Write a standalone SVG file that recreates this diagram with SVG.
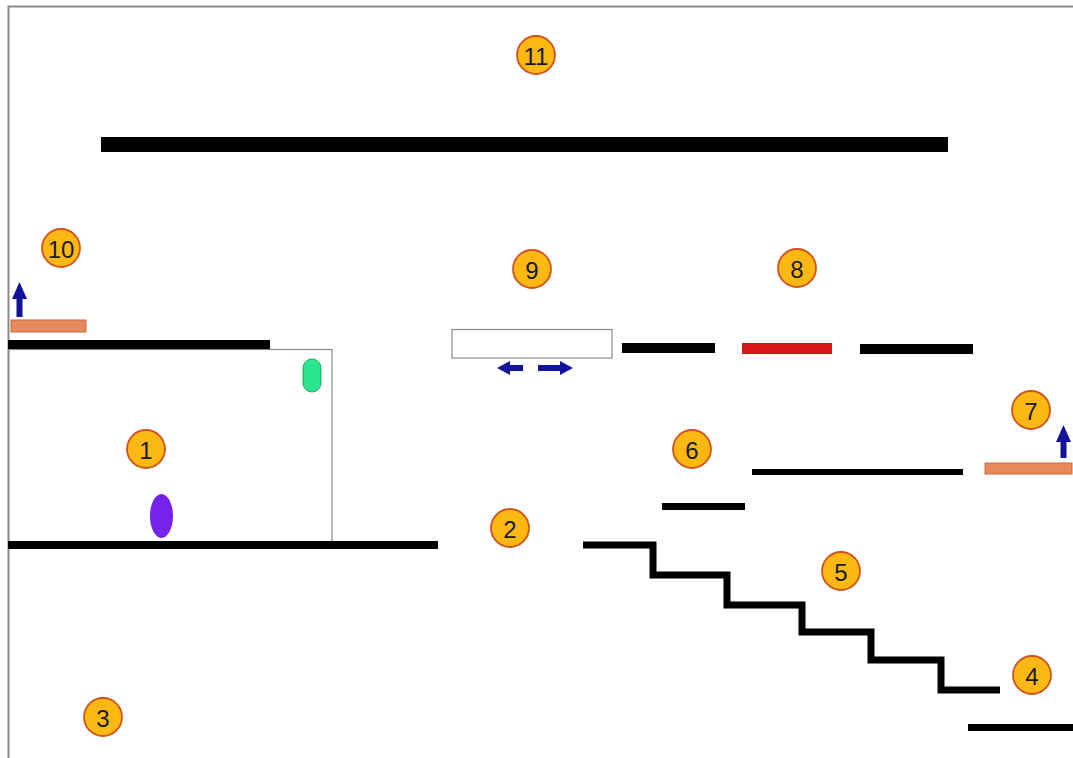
<svg xmlns="http://www.w3.org/2000/svg" width="1073" height="758" viewBox="0 0 1073 758">
<style>
.badge circle{fill:#FDB813;stroke:#D2521E;stroke-width:1.8}
.badge text{font-family:"Liberation Sans",Arial,sans-serif;font-size:24px;fill:#1a1a1a;text-anchor:middle;dominant-baseline:central}
.bar{fill:#000}
.orange{fill:#E8895C;stroke:#C86A40;stroke-width:1}
.arrow{fill:#12129A}
.step{fill:none;stroke:#000;stroke-width:7;stroke-linejoin:miter}
</style>
<rect x="0" y="0" width="1073" height="758" fill="#fff"/>
<g id="frame"><path d="M8.5,758 V6.5 H1073" fill="none" stroke="#8a8a8a" stroke-width="2"/></g>

<g id="ceiling"><rect class="bar" x="101" y="137" width="847" height="15"/></g>

<g id="room"><rect x="8.5" y="349.5" width="323.5" height="195" fill="none" stroke="#888" stroke-width="1.2"/>
<rect class="bar" x="8" y="340" width="262" height="9"/></g>
<g id="pill"><rect x="303" y="359" width="18" height="33" rx="9" fill="#2CE68E" stroke="#1FA866" stroke-width="1"/></g>
<g id="player"><ellipse cx="161.5" cy="516" rx="11.5" ry="22" fill="#7422EC"/></g>
<g id="floor"><rect class="bar" x="8" y="541" width="430" height="8"/></g>

<g id="lift10"><rect class="orange" x="11" y="320" width="75" height="12"/>
<path class="arrow" d="M16.5,317 V299 H12 L19.5,282 L27,299 H22.5 V317 Z"/></g>

<g id="slider9"><rect x="452" y="329.5" width="160" height="28.5" fill="#fff" stroke="#8a8a8a" stroke-width="1.2"/>
<path class="arrow" d="M497,368 L510,361 V365 H523 V371 H510 V375 Z"/>
<path class="arrow" d="M573,368 L560,361 V365 H538 V371 H560 V375 Z"/></g>

<g id="platforms8"><rect class="bar" x="622" y="343" width="93" height="10"/>
<rect x="742" y="343" width="90" height="11" fill="#D81818"/>
<rect class="bar" x="860" y="344" width="113" height="10"/></g>

<g id="lift7"><rect class="orange" x="985" y="463" width="87" height="11"/>
<path class="arrow" d="M1060.5,458 V442 H1056 L1063.5,425 L1071,442 H1066.5 V458 Z"/></g>

<g id="ledges6"><rect class="bar" x="752" y="469" width="211" height="6"/>
<rect class="bar" x="662" y="503" width="83" height="7"/></g>

<g id="stairs5"><path class="step" d="M583,545 H653 V575 H727 V605 H802 V632 H871 V660 H941 V690 H1000"/></g>
<g id="ledge4"><rect class="bar" x="968" y="724" width="105" height="7"/></g>

<g id="badges">
<g id="b11" class="badge"><circle cx="536" cy="55" r="19"/><text x="536" y="56">11</text></g>
<g id="b10" class="badge"><circle cx="61" cy="248" r="19"/><text x="61" y="249">10</text></g>
<g id="b9" class="badge"><circle cx="532" cy="269" r="19"/><text x="532" y="270">9</text></g>
<g id="b8" class="badge"><circle cx="797" cy="268" r="19"/><text x="797" y="269">8</text></g>
<g id="b7" class="badge"><circle cx="1031" cy="410" r="19"/><text x="1031" y="411">7</text></g>
<g id="b6" class="badge"><circle cx="692" cy="449" r="19"/><text x="692" y="450">6</text></g>
<g id="b1" class="badge"><circle cx="146" cy="449" r="19"/><text x="146" y="450">1</text></g>
<g id="b2" class="badge"><circle cx="510" cy="528" r="19"/><text x="510" y="529">2</text></g>
<g id="b5" class="badge"><circle cx="841" cy="571" r="19"/><text x="841" y="572">5</text></g>
<g id="b4" class="badge"><circle cx="1032" cy="675" r="19"/><text x="1032" y="676">4</text></g>
<g id="b3" class="badge"><circle cx="103" cy="717" r="19"/><text x="103" y="718">3</text></g>
</g>
</svg>
